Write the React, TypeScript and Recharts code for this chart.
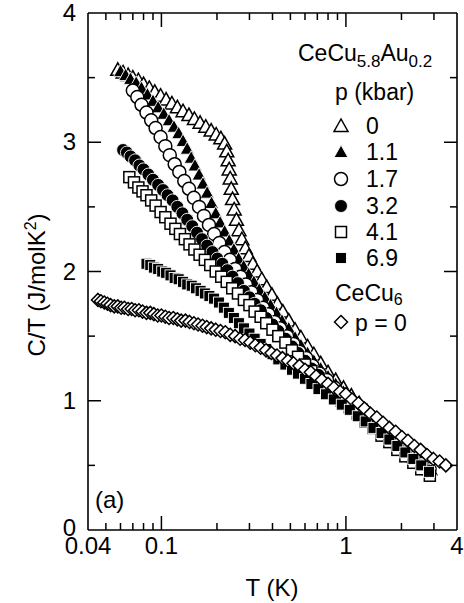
import React from 'react';
import { ScatterChart, Scatter, XAxis, YAxis } from 'recharts';

const FONT = '"Liberation Sans", Arial, Helvetica, sans-serif';
const W = 464;
const H = 603;

// CeCu5.8Au0.2, p = 0 kbar
const tP00 = [0.058, 0.062, 0.066, 0.070, 0.075, 0.080, 0.086, 0.092, 0.099, 0.106, 0.114, 0.122, 0.131, 0.141, 0.151, 0.162, 0.174, 0.186, 0.198, 0.210, 0.220, 0.226, 0.230, 0.233, 0.236, 0.239, 0.243, 0.248, 0.255, 0.263, 0.273, 0.285, 0.298, 0.313, 0.330, 0.350, 0.372, 0.397, 0.425, 0.455, 0.49, 0.53, 0.57, 0.62, 0.67, 0.73, 0.80, 0.88, 0.97, 1.07, 1.18, 1.30, 1.43, 1.58, 1.74, 1.92, 2.12, 2.34, 2.58, 2.85];
const cP00 = [3.56, 3.54, 3.52, 3.50, 3.48, 3.45, 3.42, 3.39, 3.36, 3.33, 3.30, 3.27, 3.24, 3.21, 3.18, 3.15, 3.12, 3.09, 3.06, 3.03, 2.99, 2.93, 2.86, 2.79, 2.72, 2.64, 2.56, 2.48, 2.40, 2.32, 2.25, 2.18, 2.12, 2.06, 2.00, 1.94, 1.88, 1.82, 1.75, 1.69, 1.62, 1.55, 1.49, 1.42, 1.36, 1.29, 1.22, 1.16, 1.10, 1.04, 0.98, 0.92, 0.86, 0.80, 0.74, 0.68, 0.62, 0.57, 0.52, 0.47];

// p = 1.1 kbar
const tP11 = [0.060, 0.064, 0.068, 0.073, 0.078, 0.084, 0.090, 0.096, 0.103, 0.110, 0.117, 0.124, 0.131, 0.138, 0.145, 0.152, 0.160, 0.168, 0.177, 0.187, 0.197, 0.208, 0.220, 0.233, 0.247, 0.262, 0.279, 0.297, 0.317, 0.339, 0.363, 0.39, 0.42, 0.45, 0.49, 0.53, 0.57, 0.62, 0.67, 0.73, 0.80, 0.88, 0.97, 1.07, 1.18, 1.30, 1.43, 1.58, 1.74, 1.92, 2.12, 2.34, 2.58, 2.85];
const cP11 = [3.55, 3.52, 3.49, 3.46, 3.42, 3.37, 3.32, 3.27, 3.22, 3.17, 3.12, 3.07, 3.01, 2.95, 2.88, 2.82, 2.75, 2.68, 2.61, 2.53, 2.45, 2.38, 2.31, 2.24, 2.17, 2.10, 2.04, 1.98, 1.92, 1.86, 1.80, 1.74, 1.68, 1.62, 1.56, 1.49, 1.43, 1.37, 1.31, 1.25, 1.19, 1.13, 1.07, 1.01, 0.95, 0.89, 0.84, 0.78, 0.72, 0.66, 0.61, 0.56, 0.51, 0.46];

// p = 1.7 kbar
const tP17 = [0.070, 0.074, 0.078, 0.083, 0.088, 0.093, 0.099, 0.105, 0.111, 0.118, 0.125, 0.133, 0.141, 0.150, 0.160, 0.170, 0.181, 0.193, 0.206, 0.220, 0.235, 0.251, 0.268, 0.287, 0.307, 0.330, 0.355, 0.38, 0.41, 0.44, 0.48, 0.52, 0.56, 0.61, 0.66, 0.72, 0.79, 0.87, 0.96, 1.06, 1.17, 1.29, 1.42, 1.57, 1.73, 1.91, 2.11, 2.33, 2.57, 2.84];
const cP17 = [3.40, 3.35, 3.29, 3.23, 3.17, 3.11, 3.04, 2.97, 2.90, 2.83, 2.77, 2.70, 2.64, 2.57, 2.50, 2.43, 2.36, 2.29, 2.22, 2.15, 2.09, 2.02, 1.96, 1.90, 1.84, 1.78, 1.72, 1.67, 1.61, 1.56, 1.50, 1.44, 1.38, 1.33, 1.27, 1.21, 1.16, 1.10, 1.05, 0.99, 0.94, 0.88, 0.83, 0.77, 0.72, 0.66, 0.61, 0.56, 0.51, 0.47];

// p = 3.2 kbar
const tP32 = [0.062, 0.065, 0.068, 0.072, 0.076, 0.080, 0.085, 0.090, 0.096, 0.102, 0.108, 0.115, 0.122, 0.130, 0.138, 0.147, 0.156, 0.166, 0.177, 0.189, 0.201, 0.214, 0.228, 0.243, 0.26, 0.28, 0.30, 0.32, 0.345, 0.37, 0.40, 0.43, 0.47, 0.51, 0.55, 0.60, 0.65, 0.71, 0.78, 0.86, 0.95, 1.05, 1.16, 1.28, 1.41, 1.56, 1.72, 1.90, 2.10, 2.32, 2.56, 2.82];
const cP32 = [2.94, 2.92, 2.89, 2.86, 2.82, 2.79, 2.75, 2.71, 2.67, 2.63, 2.59, 2.55, 2.50, 2.45, 2.40, 2.35, 2.30, 2.25, 2.20, 2.15, 2.10, 2.06, 2.01, 1.96, 1.91, 1.85, 1.80, 1.75, 1.70, 1.64, 1.59, 1.54, 1.48, 1.42, 1.37, 1.31, 1.25, 1.20, 1.14, 1.08, 1.03, 0.97, 0.92, 0.87, 0.81, 0.76, 0.71, 0.65, 0.60, 0.55, 0.50, 0.46];

// p = 4.1 kbar
const tP41 = [0.067, 0.071, 0.075, 0.079, 0.083, 0.088, 0.093, 0.099, 0.105, 0.112, 0.119, 0.126, 0.134, 0.142, 0.151, 0.161, 0.172, 0.184, 0.197, 0.211, 0.226, 0.242, 0.26, 0.28, 0.30, 0.32, 0.345, 0.37, 0.40, 0.43, 0.47, 0.51, 0.55, 0.60, 0.65, 0.71, 0.78, 0.86, 0.95, 1.05, 1.16, 1.28, 1.41, 1.56, 1.72, 1.90, 2.10, 2.32, 2.56, 2.85];
const cP41 = [2.73, 2.69, 2.65, 2.62, 2.59, 2.55, 2.51, 2.46, 2.42, 2.37, 2.33, 2.29, 2.25, 2.21, 2.17, 2.13, 2.09, 2.05, 2.00, 1.96, 1.92, 1.87, 1.83, 1.78, 1.74, 1.69, 1.65, 1.60, 1.55, 1.50, 1.45, 1.39, 1.34, 1.28, 1.23, 1.17, 1.11, 1.06, 1.00, 0.95, 0.90, 0.84, 0.79, 0.73, 0.68, 0.62, 0.57, 0.52, 0.47, 0.42];

// p = 6.9 kbar
const tP69 = [0.083, 0.087, 0.091, 0.096, 0.101, 0.106, 0.112, 0.118, 0.124, 0.131, 0.138, 0.146, 0.154, 0.163, 0.172, 0.182, 0.193, 0.205, 0.218, 0.232, 0.247, 0.263, 0.28, 0.30, 0.32, 0.345, 0.37, 0.40, 0.43, 0.47, 0.51, 0.55, 0.60, 0.65, 0.71, 0.78, 0.86, 0.95, 1.05, 1.16, 1.28, 1.41, 1.56, 1.72, 1.90, 2.10, 2.32, 2.56, 2.82];
const cP69 = [2.06, 2.05, 2.03, 2.02, 2.00, 1.99, 1.97, 1.95, 1.94, 1.92, 1.90, 1.89, 1.87, 1.85, 1.83, 1.81, 1.79, 1.76, 1.72, 1.68, 1.64, 1.60, 1.56, 1.52, 1.48, 1.44, 1.40, 1.36, 1.32, 1.28, 1.24, 1.21, 1.17, 1.13, 1.09, 1.05, 1.01, 0.97, 0.93, 0.88, 0.84, 0.79, 0.75, 0.70, 0.65, 0.60, 0.55, 0.50, 0.45];

// CeCu6, p = 0
const tCeCu6 = [0.0453, 0.047, 0.049, 0.051, 0.053, 0.0555, 0.058, 0.0605, 0.063, 0.066, 0.069, 0.072, 0.0755, 0.079, 0.083, 0.087, 0.091, 0.0955, 0.100, 0.105, 0.110, 0.116, 0.122, 0.128, 0.135, 0.142, 0.150, 0.158, 0.167, 0.176, 0.186, 0.197, 0.209, 0.222, 0.236, 0.251, 0.267, 0.284, 0.303, 0.323, 0.345, 0.369, 0.395, 0.423, 0.453, 0.485, 0.52, 0.56, 0.60, 0.645, 0.69, 0.74, 0.80, 0.86, 0.93, 1.00, 1.08, 1.17, 1.26, 1.36, 1.47, 1.59, 1.72, 1.86, 2.01, 2.17, 2.35, 2.54, 2.75, 2.98, 3.22, 3.48];
const cCeCu6 = [1.78, 1.77, 1.76, 1.75, 1.74, 1.73, 1.73, 1.72, 1.72, 1.71, 1.71, 1.70, 1.70, 1.69, 1.68, 1.68, 1.67, 1.66, 1.66, 1.65, 1.64, 1.64, 1.63, 1.62, 1.62, 1.61, 1.60, 1.59, 1.58, 1.57, 1.56, 1.55, 1.54, 1.53, 1.51, 1.50, 1.48, 1.47, 1.45, 1.43, 1.41, 1.39, 1.37, 1.35, 1.33, 1.31, 1.29, 1.27, 1.24, 1.22, 1.19, 1.16, 1.13, 1.10, 1.07, 1.05, 1.01, 0.98, 0.94, 0.90, 0.87, 0.83, 0.79, 0.76, 0.72, 0.69, 0.65, 0.62, 0.58, 0.55, 0.53, 0.50];

const xTicks = [0.04, 0.05, 0.06, 0.07, 0.08, 0.09, 0.1, 0.2, 0.3, 0.4, 0.5, 0.6, 0.7, 0.8, 0.9, 1, 2, 3, 4];
const xMajor = [0.1, 1];
const xLabels = [0.04, 0.1, 1, 4];
const yTicks = [0, 0.5, 1, 1.5, 2, 2.5, 3, 3.5, 4];
const yLabels = [0, 1, 2, 3, 4];

type Kind = 'tri' | 'triFill' | 'circ' | 'circFill' | 'sq' | 'sqFill' | 'diam';

const series: { id: string; label: string; kind: Kind; t: number[]; c: number[] }[] = [
  { id: 'p00', label: '0', kind: 'tri', t: tP00, c: cP00 },
  { id: 'p11', label: '1.1', kind: 'triFill', t: tP11, c: cP11 },
  { id: 'p17', label: '1.7', kind: 'circ', t: tP17, c: cP17 },
  { id: 'p32', label: '3.2', kind: 'circFill', t: tP32, c: cP32 },
  { id: 'p41', label: '4.1', kind: 'sq', t: tP41, c: cP41 },
  { id: 'p69', label: '6.9', kind: 'sqFill', t: tP69, c: cP69 },
  { id: 'cecu6', label: 'p = 0', kind: 'diam', t: tCeCu6, c: cCeCu6 },
];

const toPoints = (t: number[], c: number[]) => t.map((v, i) => ({ t: v, c: c[i] }));

// open symbols: white body, black outline; filled ones get a thin white rim
// so overlapping points stay readable
function Glyph({ cx, cy, kind }: { cx: number; cy: number; kind: Kind }) {
  const filled = kind === 'triFill' || kind === 'circFill' || kind === 'sqFill';
  const fill = filled ? '#000' : '#fff';
  const stroke = filled ? '#fff' : '#000';
  const sw = filled ? 0.9 : 1.5;
  if (kind === 'tri' || kind === 'triFill') {
    const pts = `${cx},${cy - 7} ${cx - 7},${cy + 5.5} ${cx + 7},${cy + 5.5}`;
    return <polygon points={pts} fill={fill} stroke={stroke} strokeWidth={sw} strokeLinejoin="miter" />;
  }
  if (kind === 'circ' || kind === 'circFill') {
    return <circle cx={cx} cy={cy} r={6.5} fill={fill} stroke={stroke} strokeWidth={sw} />;
  }
  if (kind === 'sq' || kind === 'sqFill') {
    return <rect x={cx - 5.5} y={cy - 5.5} width={11} height={11} fill={fill} stroke={stroke} strokeWidth={sw} />;
  }
  const d = 6.5;
  return (
    <polygon
      points={`${cx},${cy - d} ${cx + d},${cy} ${cx},${cy + d} ${cx - d},${cy}`}
      fill="#fff"
      stroke="#000"
      strokeWidth={1.5}
    />
  );
}

const BottomTick = (props: any) => {
  const { x, y, payload } = props;
  const v = payload.value;
  const len = xMajor.includes(v) ? 14 : 7;
  return (
    <g>
      {v > 0.04 && v < 4 && <line x1={x} x2={x} y1={y} y2={y - len} stroke="#000" strokeWidth={1.5} />}
      {xLabels.includes(v) && (
        <text x={x} y={y + 24} textAnchor="middle" fontSize={24} fontFamily={FONT} fill="#000">
          {String(v)}
        </text>
      )}
    </g>
  );
};

const TopTick = (props: any) => {
  const { x, y, payload } = props;
  const v = payload.value;
  const len = xMajor.includes(v) ? 14 : 7;
  if (v <= 0.04 || v >= 4) return <g />;
  return <line x1={x} x2={x} y1={y} y2={y + len} stroke="#000" strokeWidth={1.5} />;
};

const LeftTick = (props: any) => {
  const { x, y, payload } = props;
  const v = payload.value;
  const major = Number.isInteger(v);
  return (
    <g>
      {v > 0 && v < 4 && <line x1={x} x2={x + (major ? 13 : 7)} y1={y} y2={y} stroke="#000" strokeWidth={1.5} />}
      {yLabels.includes(v) && (
        <text x={x - 12} y={y + (v === 0 ? 6 : 8)} textAnchor="end" fontSize={24} fontFamily={FONT} fill="#000">
          {String(v)}
        </text>
      )}
    </g>
  );
};

const RightTick = (props: any) => {
  const { x, y, payload } = props;
  const v = payload.value;
  const major = Number.isInteger(v);
  if (v <= 0 || v >= 4) return <g />;
  return <line x1={x} x2={x - (major ? 13 : 7)} y1={y} y2={y} stroke="#000" strokeWidth={1.5} />;
};

const legendRows = [126, 152, 179, 206, 232, 258];

function Annotations() {
  return (
    <svg
      width={W}
      height={H}
      style={{ position: 'absolute', left: 0, top: 0, pointerEvents: 'none' }}
      fontFamily={FONT}
      fill="#000"
    >
      <text x={272} y={596} textAnchor="middle" fontSize={24}>T (K)</text>
      <text transform="rotate(-90)" x={-285} y={45} textAnchor="middle" fontSize={24}>
        C/T (J/molK<tspan dy={-9} fontSize={16}>2</tspan>
        <tspan dy={9}>)</tspan>
      </text>
      <text x={95} y={508} fontSize={24}>(a)</text>

      <text x={298} y={61} fontSize={23}>
        CeCu<tspan dy={6} fontSize={17}>5.8</tspan>
        <tspan dy={-6}>Au</tspan>
        <tspan dy={6} fontSize={17}>0.2</tspan>
      </text>
      <text x={335} y={100} fontSize={23}>p (kbar)</text>
      {series.slice(0, 6).map((s, i) => (
        <g key={s.id}>
          <Glyph cx={341} cy={legendRows[i]} kind={s.kind} />
          <text x={366} y={legendRows[i] + 8} fontSize={23}>{s.label}</text>
        </g>
      ))}
      <text x={335} y={301} fontSize={23}>
        CeCu<tspan dy={4} fontSize={16}>6</tspan>
      </text>
      <Glyph cx={341} cy={322} kind="diam" />
      <text x={355} y={331} fontSize={23}>p = 0</text>
    </svg>
  );
}

const axisLine = { stroke: '#000', strokeWidth: 1.6 };

export default function App() {
  return (
    <div style={{ position: 'absolute', left: 0, top: 0, width: W, height: H, background: '#fff' }}>
      <ScatterChart width={W} height={H} margin={{ top: 12, right: 6, bottom: 72, left: 87 }}>
        <XAxis
          xAxisId={0}
          dataKey="t"
          type="number"
          scale="log"
          domain={[0.04, 4]}
          allowDataOverflow
          ticks={xTicks}
          interval={0}
          height={1}
          tickSize={0}
          tickMargin={0}
          tickLine={false}
          axisLine={axisLine}
          tick={<BottomTick />}
        />
        <XAxis
          xAxisId="top"
          orientation="top"
          dataKey="t"
          type="number"
          scale="log"
          domain={[0.04, 4]}
          allowDataOverflow
          ticks={xTicks}
          interval={0}
          height={1}
          tickSize={0}
          tickMargin={0}
          tickLine={false}
          axisLine={axisLine}
          tick={<TopTick />}
        />
        <YAxis
          yAxisId={0}
          dataKey="c"
          type="number"
          domain={[0, 4]}
          allowDataOverflow
          ticks={yTicks}
          interval={0}
          width={1}
          tickSize={0}
          tickMargin={0}
          tickLine={false}
          axisLine={axisLine}
          tick={<LeftTick />}
        />
        <YAxis
          yAxisId="right"
          orientation="right"
          dataKey="c"
          type="number"
          domain={[0, 4]}
          allowDataOverflow
          ticks={yTicks}
          interval={0}
          width={1}
          tickSize={0}
          tickMargin={0}
          tickLine={false}
          axisLine={axisLine}
          tick={<RightTick />}
        />
        {series.map((s) => (
          <Scatter
            key={s.id}
            name={s.label}
            data={toPoints(s.t, s.c)}
            xAxisId={0}
            yAxisId={0}
            isAnimationActive={false}
            shape={(p: any) => <Glyph cx={p.cx} cy={p.cy} kind={s.kind} />}
          />
        ))}
      </ScatterChart>
      <Annotations />
    </div>
  );
}
